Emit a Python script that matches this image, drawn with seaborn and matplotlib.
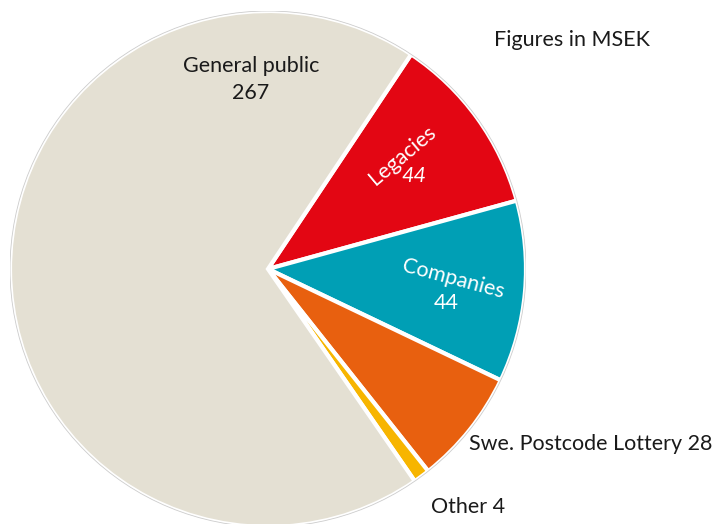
import matplotlib
matplotlib.use("Agg")
import matplotlib.pyplot as plt
import seaborn as sns

# data (MSEK)
labels = ["Legacies", "Companies", "Swe. Postcode Lottery", "Other", "General public"]
values = [44, 44, 28, 4, 267]
colors = ["#E30613", "#009FB5", "#E8600F", "#F7B500", "#E4E0D3"]

sns.set_style("white")
plt.rcParams["font.family"] = ["Lato", "DejaVu Sans"]

W, H = 715, 524
fig = plt.figure(figsize=(W / 100, H / 100), dpi=100)
ax = fig.add_axes([10 / W, -3 / H, 516 / W, 516 / H])
ax.pie(values, colors=colors, startangle=56.3, counterclock=False, radius=1,
       wedgeprops=dict(edgecolor="white", linewidth=3))
ax.add_patch(plt.Circle((0, 0), 1.0, fill=False, edgecolor="#cccccc", linewidth=0.6))
ax.set_xlim(-1, 1)
ax.set_ylim(-1, 1)
ax.set_aspect("equal")
ax.axis("off")


def px(x, y):
    return x / W, 1 - y / H


fs = 15.5
fig.text(*px(251, 66), labels[4], ha="center", va="center", fontsize=fs, color="#1a1a1a")
fig.text(*px(251, 93), str(values[4]), ha="center", va="center", fontsize=fs, color="#1a1a1a")
fig.text(*px(402, 155), labels[0], ha="center", va="center", fontsize=fs, color="white", rotation=40)
fig.text(*px(414, 176), str(values[0]), ha="center", va="center", fontsize=fs, color="white",
         style="italic")
fig.text(*px(453, 279), labels[1], ha="center", va="center", fontsize=fs, color="white", rotation=-15)
fig.text(*px(446, 303), str(values[1]), ha="center", va="center", fontsize=fs, color="white")
fig.text(*px(469, 444), f"{labels[2]} {values[2]}", ha="left", va="center", fontsize=fs, color="#1a1a1a")
fig.text(*px(431, 507), f"{labels[3]} {values[3]}", ha="left", va="center", fontsize=fs, color="#1a1a1a")
fig.text(*px(494, 40), "Figures in MSEK", ha="left", va="center", fontsize=fs, color="#1a1a1a")

fig.savefig("out.png", dpi=100, facecolor="white")
